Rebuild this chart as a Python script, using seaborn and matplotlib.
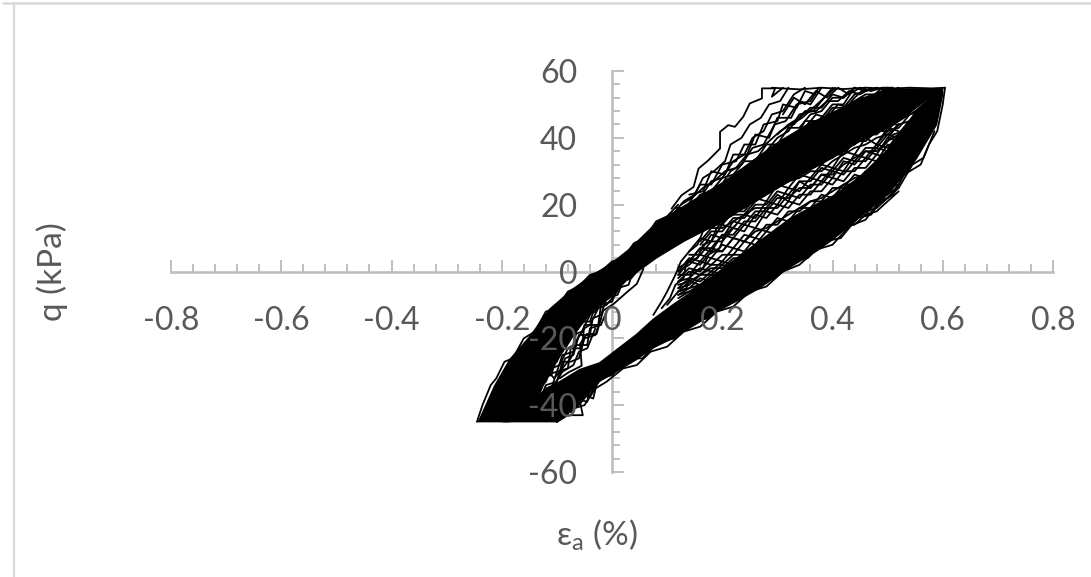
# cyclic triaxial q vs axial strain, hysteresis loops
import numpy as np
import matplotlib
matplotlib.use("Agg")
import matplotlib.pyplot as plt
from matplotlib.lines import Line2D
import seaborn as sns

x_ticks = [-0.8, -0.6, -0.4, -0.2, 0, 0.2, 0.4, 0.6, 0.8]
x_tick_labels = ["-0.8", "-0.6", "-0.4", "-0.2", "0", "0.2", "0.4", "0.6", "0.8"]
y_ticks = [-60, -40, -20, 0, 20, 40, 60]
y_tick_labels = ["-60", "-40", "-20", "0", "20", "40", "60"]

# the cycles overlap so much here that the trace reads as solid black
band_a_eps = [-.245, -.215, -.187, -.15, -.115, -.073, -.036, -.005, .03, .08, .13, .2, .3, .35, .4, .45, .5, .52, .6]
band_a_hi = [-45, -34, -26, -19, -11, -5, -.6, 2.4, 7, 15, 20, 27, 39, 44, 48, 52, 55, 55, 55]
band_a_lo = [-45, -45, -45, -42, -31, -19.5, -12, -8, -2, 4, 9, 15, 25, 29.5, 34, 39, 43, 45, 55]

band_b_eps = [-.2, -.15, -.10, -.06, -.024, .043, .073, .11, .15, .19, .23, .267, .32, .37, .4, .418, .45, .5, .52, .54, .553, .589, .6]
band_b_hi = [-40, -38, -33, -29, -27, -18.5, -14, -9.5, -5, 0, 5, 9.5, 16, 20.5, 23, 25, 29, 37, 42, 46, 49, 54, 55]
band_b_lo = [-45, -45, -45, -40, -33, -26.5, -23, -20, -16, -12, -8.5, -5, 1, 6, 9.5, 12, 16.5, 23, 27, 31, 34, 44, 53]

# loose traces between the two bands, nan where a trace has not started yet
nan = float("nan")
mid_eps = [.12, .14, .16, .18, .20, .22, .24, .26, .28, .30, .32, .34, .36, .38, .40, .42, .44, .46, .48, .50, .52]
mid_q = [
    [nan, nan, nan, 14, 14, 18, 18, 22, 21, 26, 25, 29, 28, 32, 31, 36, 35, 40, 38, 43, 42],
    [nan, 6, 10, 9, 14, 13, 17, 16, 21, 20, 25, 24, 28, 27, 31, 30, 35, 34, 38, 37, 41],
    [nan, 5, 5, 9, 9, 13, 12, 17, 16, 20, 19, 23, 23, 27, 26, 30, 30, 34, 33, 38, 37],
    [0, 2, 5, 4, 8, 7, 11, 10, 14, 14, 18, 18, 21, 21, 25, 25, 29, 28, 32, 32, 36],
    [-2, 1, 0, 4, 3, 7, 6, 10, 9, 13, 13, 17, 16, 20, 20, 24, 23, 27, 27, 31, 31],
    [-3, -2, 1, 0, 3, 2, 6, 5, 9, 8, 12, 11, 15, 14, 18, 18, 22, 22, 26, 26, 30],
    [-5, -2, -3, 0, -1, 3, 2, 6, 5, 9, 8, 12, 12, 16, 15, 19, 19, 23, 23, 27, 27],
    [-6, -5, -2, -3, 0, -1, 3, 2, 6, 5, 9, 9, 12, 12, 16, 15, 19, 19, 23, 23, 28],
    [nan, 3, 7, 7, 11, 11, 15, 15, 19, 19, 23, 22, 26, 26, 30, 29, 33, 33, 37, 36, 40],
    [0, 4, 3, 7, 6, 10, 9, 13, 12, 16, 15, 19, 19, 23, 22, 26, 26, 30, 29, 33, 33],
    [-1, -1, 3, 2, 5, 5, 9, 8, 12, 11, 15, 15, 18, 18, 22, 21, 25, 25, 28, 29, 33],
    [-4, -3, -1, 1, 1, 4, 4, 8, 7, 11, 11, 14, 14, 18, 17, 21, 21, 24, 24, 28, 29],
    [nan, nan, 8, 12, 12, 16, 16, 20, 20, 24, 23, 27, 27, 31, 30, 34, 33, 37, 37, 41, 40],
    [nan, nan, 6, 11, 10, 15, 14, 18, 18, 22, 22, 25, 25, 29, 28, 33, 32, 36, 35, 40, 39],
    [1, 3, 7, 6, 11, 10, 14, 13, 18, 17, 21, 20, 24, 24, 28, 27, 31, 31, 35, 34, 38],
    [-1, 3, 2, 6, 6, 10, 9, 12, 13, 15, 17, 19, 21, 22, 24, 26, 28, 29, 31, 33, 35],
    [-3, 0, -1, 2, 2, 5, 5, 8, 8, 12, 12, 15, 15, 19, 19, 22, 22, 26, 26, 29, 30],
    [-5, -4, -1, -1, 2, 1, 5, 4, 8, 7, 10, 10, 14, 13, 17, 17, 20, 20, 25, 24, 29],
    [-7, -5, -4, -2, -2, 1, 1, 4, 3, 7, 7, 10, 10, 14, 14, 17, 17, 21, 21, 25, 26],
    [-7, -6, -4, -4, -1, -2, 1, 0, 4, 3, 7, 6, 10, 10, 13, 13, 17, 17, 21, 22, 26],
    [-6, -3, -4, -1, -1, 2, 0, 3, 3, 6, 6, 9, 8, 11, 11, 14, 15, 18, 19, 22, 25],
    [-8, -6, -5, -3, -3, 0, 0, 2, 2, 5, 5, 8, 8, 11, 11, 14, 14, 17, 18, 21, 24],
    [nan, nan, nan, 13, 15, 17, 17, 21, 23, 25, 27, 28, 30, 30, 33, 35, 37, 38, 40, 41, 44],
    [nan, nan, 9, 13, 13, 15, 17, 19, 19, 23, 21, 27, 25, 29, 29, 32, 34, 36, 36, 39, 41],
    [nan, nan, nan, nan, 16, 19, 19, 22, 24, 26, 28, 30, 31, 33, 34, 37, 38, 41, 41, 44, 44],
    [nan, nan, nan, 14, 16, 17, 20, 21, 24, 25, 28, 28, 32, 32, 35, 35, 39, 39, 42, 42, 46],
]

# first cycles, upper left fringe
fringe_1_eps = [.108, .126, .148, .157, .175, .196, .196, .211, .223, .238, .25, .272, .272, .296, .29, .31]
fringe_1_q = [18.8, 22.8, 25.3, 30.8, 33.3, 36.8, 41.8, 43.8, 43.3, 46.3, 50.3, 51.8, 54.8, 54.8, 52.3, 55]
fringe_2_eps = [.11, .13, .15, .165, .185, .205, .215, .235, .25, .27, .285, .305, .32]
fringe_2_q = [17, 21, 23, 28, 30, 33, 38, 40, 44, 46, 50, 51, 55]
fringe_3_eps = [.12, .14, .16, .18, .2, .22, .24, .255, .275, .29, .31, .33, .35]
fringe_3_q = [17, 20, 22, 27, 28, 33, 35, 40, 42, 47, 48, 53, 55]
fringe_4_eps = [.13, .155, .175, .195, .215, .235, .255, .275, .295, .315, .335, .36, .375]
fringe_4_q = [18, 20, 24, 25, 30, 32, 37, 38, 44, 45, 50, 51, 55]
fringe_5_eps = [.15, .17, .19, .21, .235, .255, .275, .3, .32, .34, .365, .385, .4]
fringe_5_q = [19, 22, 23, 27, 29, 33, 35, 40, 42, 47, 48, 52, 55]
fringe_6_eps = [.17, .19, .21, .225, .25, .27, .29, .31, .33, .35, .375, .4, .42, .44]
fringe_6_q = [20, 24, 24, 29, 30, 35, 34, 39, 39, 45, 45, 50, 50, 55]
fringe_7_eps = [.2, .22, .24, .26, .285, .3, .325, .345, .37, .39, .415, .44, .46]
fringe_7_q = [24, 27, 27, 32, 32, 37, 37, 42, 43, 47, 47, 52, 55]
fringe_8_eps = [.115, .135, .16, .18, .2, .225, .24, .26, .275, .3, .31, .335, .35, .37]
fringe_8_q = [19, 19, 26, 26, 32, 33, 38, 38, 44, 45, 50, 49, 54, 53]
fringe_9_eps = [.14, .165, .18, .205, .22, .245, .26, .285, .3, .325, .34, .36, .38]
fringe_9_q = [23, 24, 30, 29, 35, 35, 41, 40, 46, 46, 51, 50, 55]
fringe_10_eps = [.125, .145, .165, .185, .205, .225, .245, .265, .285, .305, .325, .345, .365, .385, .405]
fringe_10_q = [20, 22, 25, 27, 30, 31, 35, 36, 39, 42, 44, 46, 49, 52, 55]
fringe_11_eps = [.14, .16, .18, .2, .22, .24, .26, .28, .3, .32, .34, .36, .38, .4, .42, .44]
fringe_11_q = [19, 23, 24, 28, 29, 33, 33, 38, 38, 43, 43, 47, 48, 52, 52, 55]
fringe_12_eps = [.16, .18, .2, .22, .24, .26, .28, .3, .32, .34, .36, .38, .4, .42, .44, .46, .48]
fringe_12_q = [20, 21, 25, 25, 30, 30, 35, 36, 40, 41, 45, 45, 49, 49, 53, 54, 55]
fringe_13_eps = [.18, .2, .22, .24, .26, .28, .3, .32, .34, .36, .38, .4, .42, .44, .46, .48, .5]
fringe_13_q = [22, 25, 26, 29, 31, 33, 36, 37, 41, 42, 46, 46, 49, 51, 53, 53, 55]
fringe_14_eps = [.3, .32, .34, .36, .38, .4, .42, .44, .46, .48, .5, .52]
fringe_14_q = [41, 44, 46, 49, 49, 53, 52, 55, 54, 55, 54, 55]
fringe_15_eps = [.31, .33, .35, .37, .39, .41, .43, .45, .47, .49]
fringe_15_q = [47, 52, 50, 54, 52, 55, 53, 55, 54, 55]
fringe_16_eps = [.35, .37, .39, .41, .43, .45, .47, .49, .51]
fringe_16_q = [43, 47, 46, 50, 49, 52, 52, 55, 55]
fringe_17_eps = [.33, .35, .37, .39, .41, .43, .45, .47]
fringe_17_q = [44, 48, 48, 51, 51, 54, 53, 55]

# steep early loading lines at the foot of the loose region
steep_1_eps = [.075, .09, .1, .115, .125, .14, .155, .165, .185, .2]
steep_1_q = [-13, -9, -6, -1, 3, 6, 8, 12, 14, 17]
steep_2_eps = [.09, .105, .115, .13, .135, .155, .165, .18, .19, .21]
steep_2_q = [-11, -8, -4, -2, 3, 4, 8, 9, 13, 16]
steep_3_eps = [.1, .12, .135, .145, .165, .175, .195, .205, .225]
steep_3_q = [-10, -6, -5, 0, 1, 5, 7, 11, 14]

# narrow end of the loose region near the peak
tail_1_eps = [.48, .5, .52, .54, .56, .58]
tail_1_q = [38, 42, 43, 47, 48, 52]
tail_2_eps = [.49, .51, .53, .55, .57, .59]
tail_2_q = [37, 41, 42, 46, 48, 53]
tail_3_eps = [.5, .52, .54, .56, .58]
tail_3_q = [40, 44, 45, 49, 51]
tail_4_eps = [.51, .53, .55, .57]
tail_4_q = [44, 46, 48, 50]

# inner traces left of the white gap
inner_1_eps = [.057, .045, .027, .003, -.016, -.028, -.046, -.058, -.055, -.079, -.095]
inner_1_q = [.8, -3.7, -6.2, -9.7, -11.7, -18.7, -18.7, -21.7, -28.2, -30.2, -32]
inner_2_eps = [.05, .035, .02, .01, -.01, -.02, -.035, -.04, -.06, -.07, -.085, -.095]
inner_2_q = [1, -2, -3, -7, -8, -13, -14, -19, -19, -25, -26, -31]
inner_3_eps = [.04, .03, .01, 0, -.02, -.025, -.05, -.055, -.075, -.08, -.1, -.11]
inner_3_q = [1, -4, -5, -9, -10, -16, -16, -23, -23, -29, -30, -35]
inner_4_eps = [.03, .015, 0, -.015, -.03, -.045, -.065, -.07, -.09, -.1, -.12, -.13]
inner_4_q = [0, -3, -6, -6, -12, -13, -18, -24, -25, -30, -31, -36]
inner_5_eps = [-.03, -.04, -.06, -.075, -.09, -.1, -.115, -.125, -.14, -.15]
inner_5_q = [-10, -15, -15, -20, -21, -27, -27, -33, -34, -38]
inner_6_eps = [-.02, -.03, -.05, -.06, -.075, -.09, -.1, -.12, -.13]
inner_6_q = [-14, -19, -20, -26, -27, -27, -33, -34, -38]
inner_7_eps = [-.06, -.08, -.09, -.11, -.125, -.14, -.15, -.17]
inner_7_q = [-14, -19, -24, -24, -29, -30, -36, -37]
inner_8_eps = [.02, .005, -.01, -.025, -.04, -.05, -.07, -.08, -.095, -.11, -.12, -.14]
inner_8_q = [-3, -7, -10, -11, -16, -17, -22, -23, -28, -29, -33, -36]
inner_9_eps = [-.01, -.02, -.04, -.045, -.065, -.075, -.09, -.105, -.115, -.13]
inner_9_q = [-12, -16, -17, -22, -22, -26, -29, -32, -30, -35]
inner_10_eps = [-.04, -.055, -.07, -.085, -.1, -.11, -.13, -.145]
inner_10_q = [-13, -18, -19, -23, -25, -31, -32, -37]
inner_11_eps = [-.03, -.045, -.06, -.07, -.09, -.105, -.12, -.14, -.16]
inner_11_q = [-17, -23, -24, -28, -30, -34, -35, -39, -40]

# loops hanging under the bottom left corner
foot_1_eps = [-.01, -.028, -.034, -.05, -.058, -.053, -.08, -.1]
foot_1_q = [-30, -33.7, -38, -37, -39, -43, -43, -45]
foot_2_eps = [-.02, -.04, -.045, -.065, -.07, -.09, -.1]
foot_2_q = [-31, -34, -39, -38, -42, -42, -45]

# scalloped outer edges
lower_edge_eps = [-.1, -.07, -.05, -.03, -.01, .02, .045, .07, .1, .13, .16, .19, .22, .25, .28, .31, .34, .37, .4, .43, .46, .48, .51, .53, .56, .575, .59, .6, .604]
lower_edge_q = [-45, -41, -40, -35, -33, -29, -28, -24, -22.5, -18, -16.5, -12, -10.5, -6, -4.5, 0, 2, 6.5, 8, 13.5, 15.5, 20, 23, 29, 32, 38, 42, 50, 55]
lower_edge_2_eps = [-.06, -.04, -.02, 0, .03, .055, .085, .115, .145, .175, .205, .235, .265, .295, .325, .355, .385, .415, .445, .47, .495, .52, .545, .565, .585]
lower_edge_2_q = [-37, -37, -32, -31, -26, -26, -21, -20, -15, -14, -9, -8, -3, -2, 3, 4, 9, 10, 16, 17, 23, 25, 32, 34, 42]
upper_edge_eps = [-.245, -.235, -.22, -.21, -.195, -.18, -.16, -.14, -.12, -.1, -.08, -.06, -.04, -.02, 0, .02, .04, .06, .08, .1, .12]
upper_edge_q = [-45, -40, -34, -32, -27, -26, -20, -18, -12, -11, -6, -4.5, -1, 0, 3, 4, 8.5, 10, 15, 16.5, 20]
top_edge_eps = [.29, .34, .38, .42, .46, .5, .54, .58, .604]
top_edge_q = [55, 54.5, 55, 54.6, 55, 54.7, 55, 54.8, 55]

traces = [
    (fringe_1_eps, fringe_1_q), (fringe_2_eps, fringe_2_q), (fringe_3_eps, fringe_3_q),
    (fringe_4_eps, fringe_4_q), (fringe_5_eps, fringe_5_q), (fringe_6_eps, fringe_6_q),
    (fringe_7_eps, fringe_7_q), (fringe_8_eps, fringe_8_q), (fringe_9_eps, fringe_9_q),
    (fringe_10_eps, fringe_10_q), (fringe_11_eps, fringe_11_q), (fringe_12_eps, fringe_12_q),
    (fringe_13_eps, fringe_13_q), (fringe_14_eps, fringe_14_q), (fringe_15_eps, fringe_15_q),
    (fringe_16_eps, fringe_16_q), (fringe_17_eps, fringe_17_q),
    (steep_1_eps, steep_1_q), (steep_2_eps, steep_2_q), (steep_3_eps, steep_3_q),
    (tail_1_eps, tail_1_q), (tail_2_eps, tail_2_q), (tail_3_eps, tail_3_q), (tail_4_eps, tail_4_q),
    (inner_1_eps, inner_1_q), (inner_2_eps, inner_2_q), (inner_3_eps, inner_3_q),
    (inner_4_eps, inner_4_q), (inner_5_eps, inner_5_q), (inner_6_eps, inner_6_q),
    (inner_7_eps, inner_7_q), (inner_8_eps, inner_8_q), (inner_9_eps, inner_9_q),
    (inner_10_eps, inner_10_q), (inner_11_eps, inner_11_q),
    (foot_1_eps, foot_1_q), (foot_2_eps, foot_2_q),
    (lower_edge_eps, lower_edge_q), (lower_edge_2_eps, lower_edge_2_q),
    (upper_edge_eps, upper_edge_q), (top_edge_eps, top_edge_q),
]

sns.set_theme(style="white")
plt.rcParams["font.family"] = ["Lato", "DejaVu Sans"]
plt.rcParams["mathtext.default"] = "regular"

grey = "#595959"
axis_grey = "#bfbfbf"
W, H = 1091, 577

fig = plt.figure(figsize=(W / 100, H / 100), dpi=100)
pos = [171 / W, 1 - 472 / H, 882 / W, 401 / H]
ax = fig.add_axes(pos)
ax.patch.set_visible(False)
ax.set_axisbelow(True)

ax.fill_between(band_a_eps, band_a_lo, band_a_hi, color="black", lw=0, zorder=2)
ax.fill_between(band_b_eps, band_b_lo, band_b_hi, color="black", lw=0, zorder=2)
for q in mid_q:
    sns.lineplot(x=mid_eps, y=q, color="black", linewidth=1.3, sort=False, estimator=None,
                 solid_joinstyle="round", ax=ax)
for eps, q in traces:
    sns.lineplot(x=eps, y=q, color="black", linewidth=1.3, sort=False, estimator=None,
                 solid_joinstyle="round", ax=ax)

ax.set_xlim(-0.8, 0.8)
ax.set_ylim(-60, 60)
ax.set_xlabel("")
ax.set_ylabel("")

for side in ["top", "right"]:
    ax.spines[side].set_visible(False)
for side in ["left", "bottom"]:
    ax.spines[side].set_position("zero")
    ax.spines[side].set_color(axis_grey)
    ax.spines[side].set_linewidth(1.9)
    ax.spines[side].set_zorder(1)

ax.set_xticks(x_ticks)
ax.set_xticks(np.arange(-20, 21) * 0.04, minor=True)
ax.set_yticks(y_ticks)
ax.set_yticks(np.arange(-15, 16) * 4, minor=True)
ax.tick_params(which="major", direction="in", length=8.5, width=1.4, color=axis_grey, labelbottom=False, labelleft=False, left=True, bottom=True)
ax.tick_params(which="minor", direction="in", length=6, width=1.4, color=axis_grey, left=True, bottom=True)

# labels go on a second axes so they stay readable on top of the black trace
ax2 = fig.add_axes(pos)
ax2.patch.set_visible(False)
for side in ax2.spines:
    ax2.spines[side].set_visible(False)
ax2.set_xlim(-0.8, 0.8)
ax2.set_ylim(-60, 60)
ax2.set_xticks(x_ticks)
ax2.set_xticklabels(x_tick_labels)
ax2.set_yticks(y_ticks)
ax2.set_yticklabels(y_tick_labels)
ax2.spines["bottom"].set_position("zero")
ax2.spines["left"].set_position("zero")
ax2.tick_params(axis="x", length=0, pad=25, labelsize=23, labelcolor=grey)
ax2.tick_params(axis="y", length=0, pad=25, labelsize=23, labelcolor=grey)

ax2.set_xlabel("ε$_{a}$ (%)", fontsize=24, color=grey, va="center")
ax2.xaxis.set_label_coords(0.483, -0.157)
ax2.set_ylabel("q (kPa)", fontsize=24, color=grey, va="center")
ax2.yaxis.set_label_coords(-0.135, 0.5)

# chart frame left over from the spreadsheet screenshot
fig.add_artist(Line2D([3 / W, 1], [1 - 3 / H, 1 - 3 / H], color="#d9d9d9", lw=1.8))
fig.add_artist(Line2D([14 / W, 14 / W], [0, 1 - 3 / H], color="#d9d9d9", lw=1.6))

fig.savefig("out.png", dpi=100)
